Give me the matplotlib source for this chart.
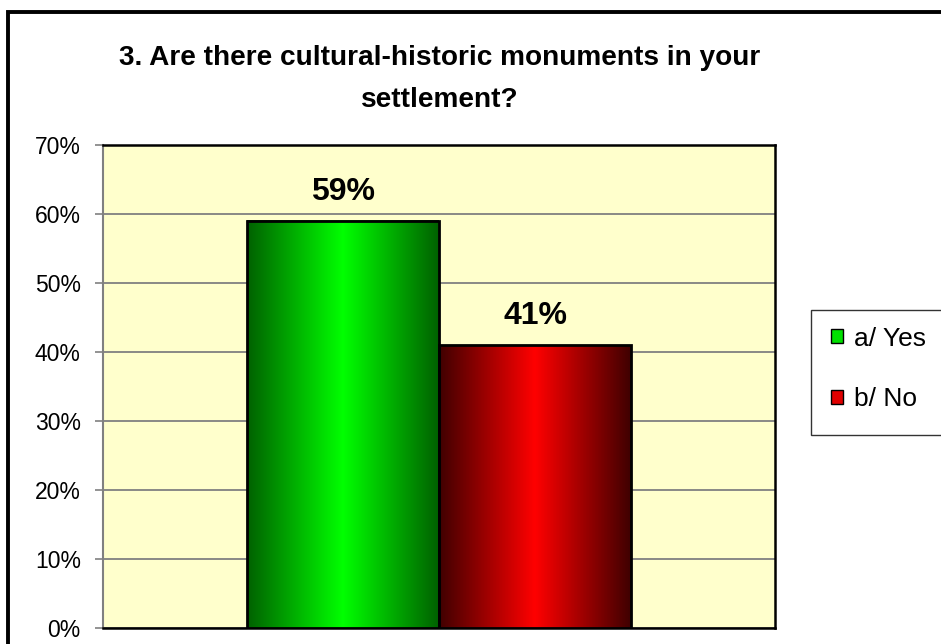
import numpy as np
import matplotlib
matplotlib.use("Agg")
import matplotlib.pyplot as plt
from matplotlib.colors import LinearSegmentedColormap
from matplotlib.patches import Rectangle, Patch

# ---- data ----
categories = ["a/ Yes", "b/ No"]
values = [59, 41]
value_labels = ["59%", "41%"]
yticks = [0, 10, 20, 30, 40, 50, 60, 70]
ytick_labels = ["0%", "10%", "20%", "30%", "40%", "50%", "60%", "70%"]
title = "3. Are there cultural-historic monuments in your\nsettlement?"

plt.rcParams["font.family"] = ["Liberation Sans", "DejaVu Sans"]

W, H = 941, 644
fig = plt.figure(figsize=(W / 100, H / 100), dpi=100)
fig.patch.set_facecolor("white")

def fx(px):
    return px / W

def fy(py):
    return 1 - py / H

ax = fig.add_axes([fx(103), fy(628), fx(775) - fx(103), fy(145) - fy(628)])
ax.set_facecolor("#FFFFCC")

x = np.arange(len(categories))
bars = ax.bar(x, values, width=1.0, color="none", edgecolor="black", linewidth=2.0, zorder=4)

grad_colors = [
    [(0.0, 0.38, 0.0), (0.0, 1.0, 0.0), (0.0, 0.38, 0.0)],
    [(0.25, 0.0, 0.0), (1.0, 0.0, 0.0), (0.25, 0.0, 0.0)],
]
grad = np.linspace(0, 1, 256).reshape(1, -1)
for b, cols in zip(bars, grad_colors):
    cmap = LinearSegmentedColormap.from_list("g", cols)
    x0, w, h = b.get_x(), b.get_width(), b.get_height()
    ax.imshow(grad, cmap=cmap, aspect="auto", extent=(x0, x0 + w, 0, h), zorder=3,
              interpolation="bilinear")

for b, lab in zip(bars, value_labels):
    ax.annotate(lab, (b.get_x() + b.get_width() / 2, b.get_height()), xytext=(0, 21),
                textcoords="offset points", ha="center", va="center",
                fontsize=23, fontweight="bold", zorder=5)

ax.set_xlim(-1.25, 2.25)
ax.set_ylim(0, 70)
ax.set_yticks(yticks)
ax.set_yticklabels(ytick_labels, fontsize=16.5)
ax.set_xticks([])
ax.tick_params(axis="y", direction="out", length=6, width=1.2, color="#808080", pad=10)
ax.yaxis.grid(True, color="#808080", linewidth=1.3, zorder=1)
ax.set_axisbelow(True)
for s in ax.spines.values():
    s.set_color("black")
    s.set_linewidth(1.8)
ax.spines["left"].set_color("#808080")
ax.spines["left"].set_linewidth(1.5)

fig.text(fx(440), fy(79), title, ha="center", va="center", fontsize=20.2,
         fontweight="bold", linespacing=1.8)

# figure border
fig.add_artist(Rectangle((fx(8), fy(700)), 1.2, fy(12) - fy(700), transform=fig.transFigure,
                         fill=False, edgecolor="black", linewidth=2.8, clip_on=False))

# legend box
fig.add_artist(Rectangle((fx(811), fy(435)), fx(200), fy(310) - fy(435), transform=fig.transFigure,
                         facecolor="white", edgecolor="#333333", linewidth=1.0, clip_on=False))
handles = [Patch(facecolor="#00e000", edgecolor="black", linewidth=1.0),
           Patch(facecolor="#e00000", edgecolor="black", linewidth=1.0)]
fig.legend(handles, categories, loc="center left", bbox_to_anchor=(fx(818), fy(369)),
           frameon=False, fontsize=19, handlelength=0.45, handleheight=0.45,
           handletextpad=0.4, labelspacing=1.4, borderpad=0)

fig.savefig("out.png", dpi=100, facecolor="white")
